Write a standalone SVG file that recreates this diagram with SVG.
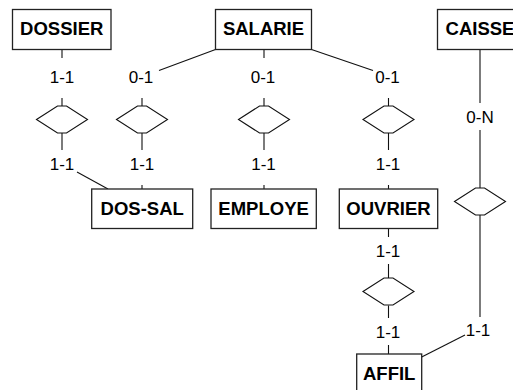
<svg xmlns="http://www.w3.org/2000/svg" xmlns:xlink="http://www.w3.org/1999/xlink" width="513" height="390" viewBox="0 0 513 390">
  <style>
    .box { fill: #fff; stroke: #222; stroke-width: 1.3; }
    .name { font-family: "Liberation Sans", Arial, sans-serif; font-weight: bold; font-size: 18.5px; fill: #000; text-anchor: middle; }
    .card { font-family: "Liberation Sans", Arial, sans-serif; font-size: 17px; fill: #000; text-anchor: middle; }
    .link { fill: none; stroke: #111; stroke-width: 1.1; }
    .rel { fill: #fff; stroke: #111; stroke-width: 1.1; }
  </style>
  <defs>
    <path id="rel" class="rel" d="M -25.5 0 L -4.5 -13.5 L 4.5 -13.5 L 25.5 0 L 4.5 13.5 L -4.5 13.5 Z"/>
  </defs>
  <rect width="513" height="390" fill="#fff"/>

  <!-- connectors -->
  <g id="connectors">
    <!-- DOSSIER / DOS-SAL -->
    <path class="link" d="M 62 49.5 V 58 M 62 98 V 106 M 62 133 V 150"/>
    <path class="link" d="M 77 172 L 108 189"/>
    <!-- SALARIE / DOS-SAL -->
    <path class="link" d="M 215.5 49.5 L 159 70.5"/>
    <path class="link" d="M 142 98 V 106 M 142 133 V 150 M 142 185 V 189"/>
    <!-- SALARIE / EMPLOYE -->
    <path class="link" d="M 264 49.5 V 58 M 264 98 V 106 M 264 133 V 150 M 264 185 V 189"/>
    <!-- SALARIE / OUVRIER -->
    <path class="link" d="M 311.5 49.5 L 373 70.5"/>
    <path class="link" d="M 388.5 98 V 106 M 388.5 133 V 150 M 388.5 185 V 189"/>
    <!-- OUVRIER / AFFIL -->
    <path class="link" d="M 388.5 228.5 V 237 M 388.5 264 V 278 M 388.5 305.5 V 318 M 388.5 345 V 354"/>
    <!-- CAISSE / AFFIL -->
    <path class="link" d="M 480 49.5 V 103 M 480 130 V 188 M 480 215 V 317"/>
    <path class="link" d="M 465 335 L 421.7 357"/>
  </g>

  <!-- relationships -->
  <g id="relationships">
    <use xlink:href="#rel" x="62" y="119.5"/>
    <use xlink:href="#rel" x="142" y="119.5"/>
    <use xlink:href="#rel" x="264" y="119.5"/>
    <use xlink:href="#rel" x="388.5" y="119.5"/>
    <use xlink:href="#rel" x="480" y="201.5"/>
    <use xlink:href="#rel" x="388.5" y="291.5"/>
  </g>

  <!-- cardinalities -->
  <g id="cardinalities">
    <text class="card" x="62" y="83">1-1</text>
    <text class="card" x="141" y="83">0-1</text>
    <text class="card" x="263" y="83">0-1</text>
    <text class="card" x="387.5" y="83">0-1</text>
    <text class="card" x="62" y="170">1-1</text>
    <text class="card" x="142" y="170">1-1</text>
    <text class="card" x="263.5" y="170">1-1</text>
    <text class="card" x="388" y="170">1-1</text>
    <text class="card" x="480" y="123">0-N</text>
    <text class="card" x="388" y="256.5">1-1</text>
    <text class="card" x="388" y="338">1-1</text>
    <text class="card" x="478" y="335.5">1-1</text>
  </g>

  <!-- entities -->
  <g id="dossier">
    <rect class="box" x="12.5" y="9.5" width="98.5" height="40"/>
    <text class="name" x="61.75" y="35">DOSSIER</text>
  </g>
  <g id="salarie">
    <rect class="box" x="215.5" y="9.5" width="96" height="40"/>
    <text class="name" x="263.5" y="35">SALARIE</text>
  </g>
  <g id="caisse">
    <rect class="box" x="437.5" y="9.5" width="85" height="40"/>
    <text class="name" x="480" y="35">CAISSE</text>
  </g>
  <g id="dos-sal">
    <rect class="box" x="91.7" y="189" width="101" height="39.5"/>
    <text class="name" x="142.2" y="214.5">DOS-SAL</text>
  </g>
  <g id="employe">
    <rect class="box" x="211" y="189" width="105.3" height="39.5"/>
    <text class="name" x="263.6" y="214.5">EMPLOYE</text>
  </g>
  <g id="ouvrier">
    <rect class="box" x="339.3" y="189" width="98.4" height="39.5"/>
    <text class="name" x="388.5" y="214.5">OUVRIER</text>
  </g>
  <g id="affil">
    <rect class="box" x="356.7" y="354" width="65" height="40"/>
    <text class="name" x="389.2" y="379.5">AFFIL</text>
  </g>
</svg>
